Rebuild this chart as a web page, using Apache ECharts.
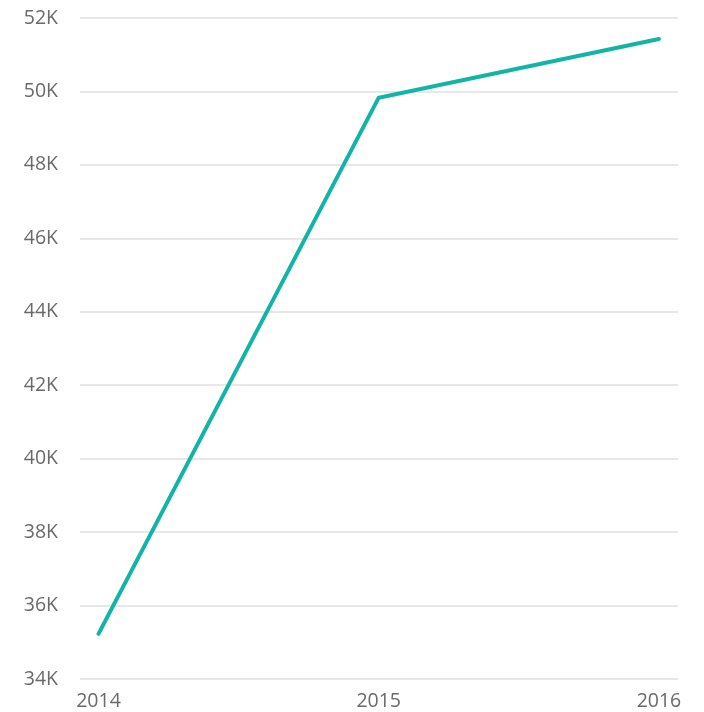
<!DOCTYPE html>
<html>
<head>
<meta charset="utf-8">
<script src="https://cdn.jsdelivr.net/npm/echarts@6/dist/echarts.min.js"></script>
<style>
  html, body { margin: 0; padding: 0; background: #fff; }
  #chart { width: 704px; height: 712px; }
</style>
</head>
<body>
<div id="chart"></div>
<script>
// Yearly values
const years = [2014, 2015, 2016];
const values = [35230, 49830, 51430];
const yTicks = [34000, 36000, 38000, 40000, 42000, 44000, 46000, 48000, 50000, 52000];

const chart = echarts.init(document.getElementById('chart'));
const font = '"Open Sans", "Noto Sans", sans-serif';

chart.setOption({
  animation: false,
  grid: { left: 80, right: 26, top: 18, bottom: 33, containLabel: false },
  xAxis: {
    type: 'value',
    min: 2013.934,
    max: 2016.068,
    axisLine: { show: false },
    axisTick: { show: false },
    splitLine: { show: false },
    axisLabel: {
      customValues: years,
      color: '#6a6a6a',
      fontSize: 19.5,
      fontFamily: font,
      margin: 12,
      formatter: v => String(v)
    }
  },
  yAxis: {
    type: 'value',
    min: yTicks[0],
    max: yTicks[yTicks.length - 1],
    interval: 2000,
    axisLine: { show: false },
    axisTick: { show: false },
    splitLine: { lineStyle: { color: '#e8e8e8', width: 2 } },
    axisLabel: {
      color: '#6a6a6a',
      fontSize: 19.5,
      fontFamily: font,
      margin: 22,
      formatter: v => (v / 1000) + 'K'
    }
  },
  series: [{
    type: 'line',
    data: years.map((y, i) => [y, values[i]]),
    symbol: 'none',
    lineStyle: { color: '#12b5a5', width: 4, cap: 'round', join: 'miter' }
  }]
});
</script>
</body>
</html>
